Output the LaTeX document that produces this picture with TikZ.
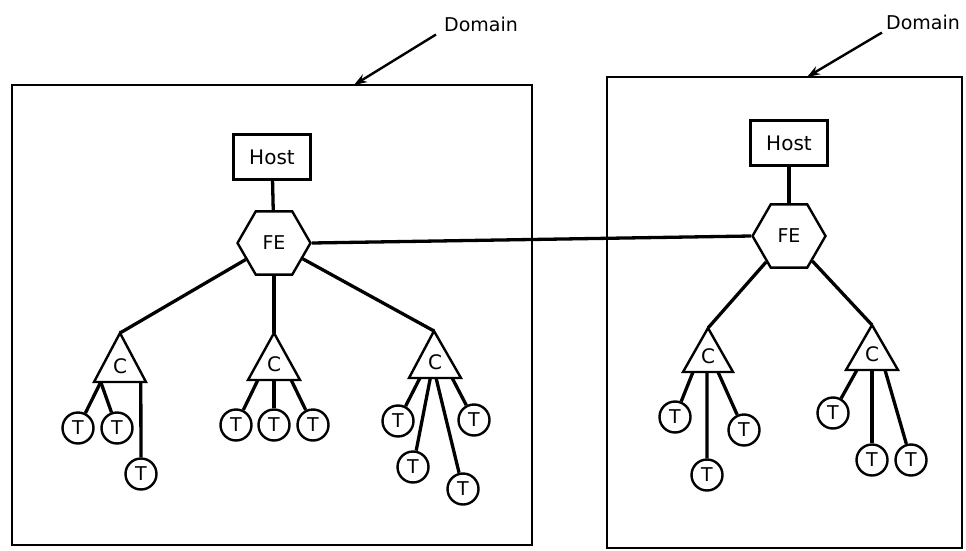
\documentclass[tikz,border=0pt]{standalone}
\usepackage{fontspec}
\setmainfont{DejaVu Sans}
\usetikzlibrary{shapes.geometric,arrows.meta,calc}
\begin{document}
\begin{tikzpicture}[x=1pt,y=-1pt,
  every node/.style={inner sep=0pt},
  domainbox/.style={draw, line width=2.6pt},
  domlabel/.style={font=\fontsize{19}{21}\selectfont},
  pointer/.style={line width=2.4pt, -{Stealth[length=13pt,width=9pt]}},
  hostbox/.style={draw, line width=2.4pt, minimum width=77pt, minimum height=45pt, font=\fontsize{20}{22}\selectfont},
  febox/.style={draw, regular polygon, regular polygon sides=6, minimum size=73pt, line width=2.4pt, font=\fontsize{19}{21}\selectfont},
  term/.style={draw, circle, minimum size=31pt, line width=2.4pt, font=\fontsize{19}{21}\selectfont},
  ctext/.style={font=\fontsize{20}{22}\selectfont},
  tri/.style={draw, line width=2.4pt, line join=miter},
  link/.style={line width=3.3pt},
]
\useasboundingbox (0,0) rectangle (966,551);

% domains
\node[domainbox, minimum width=520pt, minimum height=460pt] (dom1) at (272,315) {};
\node[domainbox, minimum width=355pt, minimum height=471pt] (dom2) at (784.5,312.5) {};
\node[domlabel] (lab1) at (481,24) {Domain};
\node[domlabel] (lab2) at (923,22) {Domain};
\coordinate (p1) at (354,85);
\coordinate (p2) at (807,77);
\draw[pointer] ($(lab1.south west)+(-8,3)$) -- (p1);
\draw[pointer] ($(lab2.south west)+(-4,3)$) -- (p2);

% hosts and front ends
\node[hostbox] (host1) at (272,157) {Host};
\node[hostbox] (host2) at (789,143) {Host};
\node[febox] (fe1) at (274,243) {FE};
\node[febox] (fe2) at (789,236) {FE};
\draw[link] (host1) -- (fe1);
\draw[link] (host2) -- (fe2);
\draw[link] (fe1.east) -- (fe2.west);

% concentrators
\coordinate (c1a) at (120,333); \coordinate (c1l) at (94,382);  \coordinate (c1r) at (146,382);
\coordinate (c2a) at (274,333); \coordinate (c2l) at (248,380); \coordinate (c2r) at (300,380);
\coordinate (c3a) at (434,331); \coordinate (c3l) at (409,378); \coordinate (c3r) at (461,378);
\coordinate (c4a) at (708,328); \coordinate (c4l) at (683,372); \coordinate (c4r) at (733,372);
\coordinate (c5a) at (872,325); \coordinate (c5l) at (846,370); \coordinate (c5r) at (898,370);
\foreach \c in {c1,c2,c3,c4,c5}{
  \draw[tri] (\c a) -- (\c l) -- (\c r) -- cycle;
}
\node[ctext] (c1) at (120,366) {C};
\node[ctext] (c2) at (274,364) {C};
\node[ctext] (c3) at (435,362) {C};
\node[ctext] (c4) at (708,356) {C};
\node[ctext] (c5) at (872,354) {C};

\draw[link] (fe1) -- (c1a);
\draw[link] (fe1) -- (c2a);
\draw[link] (fe1) -- (c3a);
\draw[link] (fe2) -- (c4a);
\draw[link] (fe2) -- (c5a);

% terminals
\node[term] (t11) at (78,428) {T};
\node[term] (t12) at (117,428) {T};
\node[term] (t13) at (141,474) {T};
\node[term] (t21) at (236,425) {T};
\node[term] (t22) at (274,425) {T};
\node[term] (t23) at (313,425) {T};
\node[term] (t31) at (398,421) {T};
\node[term] (t32) at (474,420) {T};
\node[term] (t33) at (413,467) {T};
\node[term] (t34) at (463,489) {T};
\node[term] (t41) at (675,417) {T};
\node[term] (t42) at (744,430) {T};
\node[term] (t43) at (707,475) {T};
\node[term] (t51) at (833,413) {T};
\node[term] (t52) at (872,460) {T};
\node[term] (t53) at (911,460) {T};

\draw[link] ($(c1l)!0.13!(c1r)$) -- (t11);
\draw[link] ($(c1l)!0.13!(c1r)$) -- (t12);
\draw[link] ($(c1l)!0.9!(c1r)$) -- (t13);
\draw[link] ($(c2l)!0.19!(c2r)$) -- (t21);
\draw[link] ($(c2l)!0.5!(c2r)$) -- (t22);
\draw[link] ($(c2l)!0.83!(c2r)$) -- (t23);
\draw[link] ($(c3l)!0.21!(c3r)$) -- (t31);
\draw[link] ($(c3l)!0.41!(c3r)$) -- (t33);
\draw[link] ($(c3l)!0.52!(c3r)$) -- (t34);
\draw[link] ($(c3l)!0.83!(c3r)$) -- (t32);
\draw[link] ($(c4l)!0.2!(c4r)$) -- (t41);
\draw[link] ($(c4l)!0.48!(c4r)$) -- (t43);
\draw[link] ($(c4l)!0.7!(c4r)$) -- (t42);
\draw[link] ($(c5l)!0.21!(c5r)$) -- (t51);
\draw[link] ($(c5l)!0.5!(c5r)$) -- (t52);
\draw[link] ($(c5l)!0.75!(c5r)$) -- (t53);
\end{tikzpicture}
\end{document}
